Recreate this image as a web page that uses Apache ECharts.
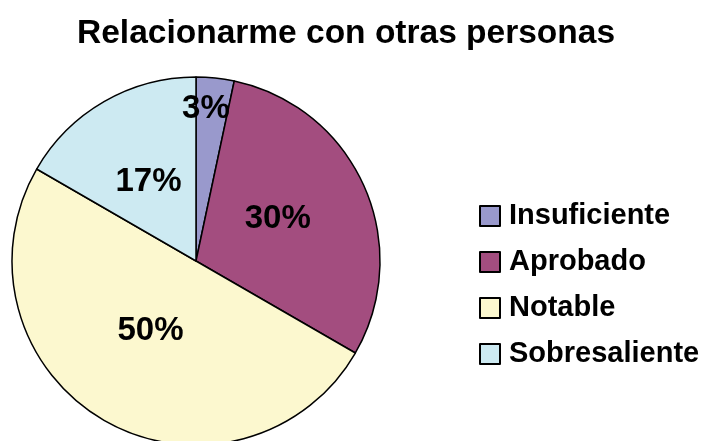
<!DOCTYPE html>
<html lang="es">
<head>
    <meta charset="UTF-8">
    <title>Relacionarme con otras personas</title>
    <script src="https://cdn.jsdelivr.net/npm/echarts@6/dist/echarts.min.js"></script>
    <style>
        html, body { margin: 0; padding: 0; background: #fff; }
        #chart { width: 707px; height: 441px; }
    </style>
</head>
<body>
<div id="chart"></div>
<script>
    // datos (n = 30)
    var categorias = ['Insuficiente', 'Aprobado', 'Notable', 'Sobresaliente'];
    var valores = [1, 9, 15, 5];
    var colores = ['#9999cc', '#a34d7f', '#fcf8cf', '#cdeaf2'];
    // desplazamiento de cada etiqueta dentro del sector
    var desplaz = [[0, -58], [-5, -3], [2, -12], [0, 3]];

    var datos = categorias.map(function (c, i) {
        return {
            name: c,
            value: valores[i],
            itemStyle: { color: colores[i] },
            label: { offset: desplaz[i] }
        };
    });

    var myChart = echarts.init(document.getElementById('chart'));
    myChart.setOption({
        animation: false,
        title: {
            text: 'Relacionarme con otras personas',
            left: 72,
            top: 12,
            textStyle: {
                fontFamily: 'Liberation Sans, Arial, sans-serif',
                fontWeight: 'bold',
                fontSize: 33.5,
                color: '#000'
            }
        },
        legend: {
            orient: 'vertical',
            left: 479,
            top: 201,
            padding: 0,
            itemWidth: 20,
            itemHeight: 20,
            itemGap: 16,
            icon: 'rect',
            data: categorias,
            textStyle: {
                fontFamily: 'Liberation Sans, Arial, sans-serif',
                fontWeight: 'bold',
                fontSize: 29,
                lineHeight: 30,
                padding: [0, 0, 0, 4],
                color: '#000'
            }
        },
        series: [{
            type: 'pie',
            center: [196, 261],
            radius: 184,
            startAngle: 90,
            clockwise: true,
            itemStyle: { borderColor: '#000', borderWidth: 1.5 },
            emphasis: { disabled: true },
            label: {
                position: 'inside',
                fontFamily: 'Liberation Sans, Arial, sans-serif',
                fontWeight: 'bold',
                fontSize: 33,
                color: '#000',
                formatter: function (p) { return Math.round(p.percent) + '%'; }
            },
            labelLine: { show: false },
            data: datos
        }]
    });
</script>
</body>
</html>
